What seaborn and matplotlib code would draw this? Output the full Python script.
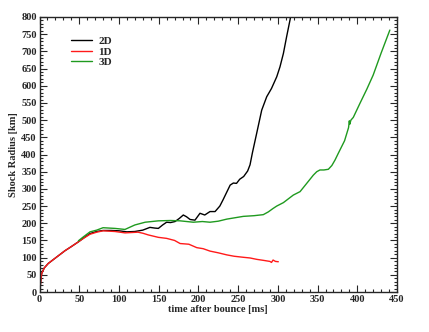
import matplotlib
matplotlib.use("Agg")
import matplotlib.pyplot as plt
from matplotlib.ticker import MultipleLocator
import pandas as pd
import seaborn as sns

# -----------------------------------------------------
# Data
# -----------------------------------------------------

t_1d = [0, 0.6, 1.5, 2.8, 6, 11, 19.5, 32, 40, 49, 56, 63.6, 72, 80, 95,
        107.6, 124, 130, 137, 149.6, 160, 170, 177, 188, 198, 206, 214.6,
        225, 235.7, 245, 256.5, 265, 273.4, 282, 290, 292, 294, 297, 300.6]
r_1d = [0, 6, 30, 54, 70, 83, 98, 120, 132, 146, 157, 168, 174, 178, 176,
        172, 174, 171, 166, 159, 156, 150, 141, 139, 129, 126, 119,
        114, 108, 104, 101, 99, 95, 92, 89, 86, 93, 89, 88]

t_2d = [0, 0.6, 1.5, 2.8, 6, 11, 19.5, 32, 40, 49, 56, 63.6, 72, 80, 90,
        100, 110, 120, 130, 139, 145, 149.6, 155, 160, 165, 170.6, 176,
        181, 185, 189.5, 195.7, 202, 208, 214.6, 221, 227, 231, 233.5,
        240, 244, 248, 252, 257, 262, 265, 268, 273.4, 279.7, 286, 292,
        298.6, 302.7, 307, 311, 315.3, 317.5]
r_2d = [0, 6, 30, 54, 70, 83, 98, 120, 132, 146, 158, 170, 176, 179, 179,
        178, 175, 176, 180, 188, 186, 185, 195, 203, 202, 205, 214,
        224, 219, 211, 209, 229, 224, 234, 234, 250, 268, 280,
        311, 317, 316, 328, 336, 352, 370, 405, 462, 529, 568, 592,
        626, 655, 694, 742, 791, 820]

t_3d = [49, 55, 63.6, 72, 80, 95, 107.6, 120, 133, 149.6, 165, 177, 193.6,
        205, 214.6, 225, 235.7, 256.5, 270, 281.7, 288, 294, 298.6, 307,
        319.5, 328, 336, 344.7, 349, 353, 358, 363.6, 368, 372, 376, 384,
        389, 390, 390.5, 392, 395, 403.4, 412, 420, 430, 441]
r_3d = [149, 160, 175, 180, 187, 185, 182, 195, 203, 207, 208, 207, 203,
        205, 203, 206, 212, 220, 222, 225, 233, 243, 250, 260,
        282, 292, 315, 340, 350, 355, 355, 357, 368, 384, 403, 440,
        478, 498, 488, 500, 508, 549, 590, 631, 695, 762]

# -----------------------------------------------------
# Plot
# -----------------------------------------------------

sns.set_theme(style="ticks")
plt.rcParams["font.family"] = ["Liberation Serif", "DejaVu Serif"]
plt.rcParams["font.weight"] = "bold"

fig = plt.figure(figsize=(4.29, 3.32), dpi=100)
ax = fig.add_axes([39.5 / 429, 1 - 292 / 332, (397 - 39.5) / 429, (292 - 17) / 332])

series = [
    ("2D", t_2d, r_2d, "black"),
    ("1D", t_1d, r_1d, "#ff1a1a"),
    ("3D", t_3d, r_3d, "#1f9a1f"),
]

for label, t, r, color in series:
    df = pd.DataFrame({"t": t, "r": r})
    sns.lineplot(data=df, x="t", y="r", ax=ax, color=color, lw=1.0,
                 label=label, sort=False, estimator=None)

ax.set_xlim(0, 450)
ax.set_ylim(0, 800)
ax.xaxis.set_major_locator(MultipleLocator(50))
ax.xaxis.set_minor_locator(MultipleLocator(10))
ax.yaxis.set_major_locator(MultipleLocator(50))
ax.yaxis.set_minor_locator(MultipleLocator(10))
ax.tick_params(which="both", direction="in", top=True, right=True,
               labelsize=7.5, width=0.8, pad=2)
ax.tick_params(which="major", length=5)
ax.tick_params(which="minor", length=2.5)
for lbl in ax.get_xticklabels() + ax.get_yticklabels():
    lbl.set_fontweight("bold")
for side in ax.spines.values():
    side.set_linewidth(1.0)

ax.set_xlabel("time after bounce [ms]", fontsize=7.5, fontweight="bold", labelpad=1)
ax.set_ylabel("Shock Radius [km]", fontsize=7.5, fontweight="bold", labelpad=2)

leg = ax.legend(loc="upper left", bbox_to_anchor=(0.075, 0.945), frameon=False,
                fontsize=8, handlelength=1.9, handletextpad=0.6,
                labelspacing=0.05, borderaxespad=0)
for txt in leg.get_texts():
    txt.set_fontweight("bold")

fig.savefig("out.png", dpi=100)
plt.close(fig)
